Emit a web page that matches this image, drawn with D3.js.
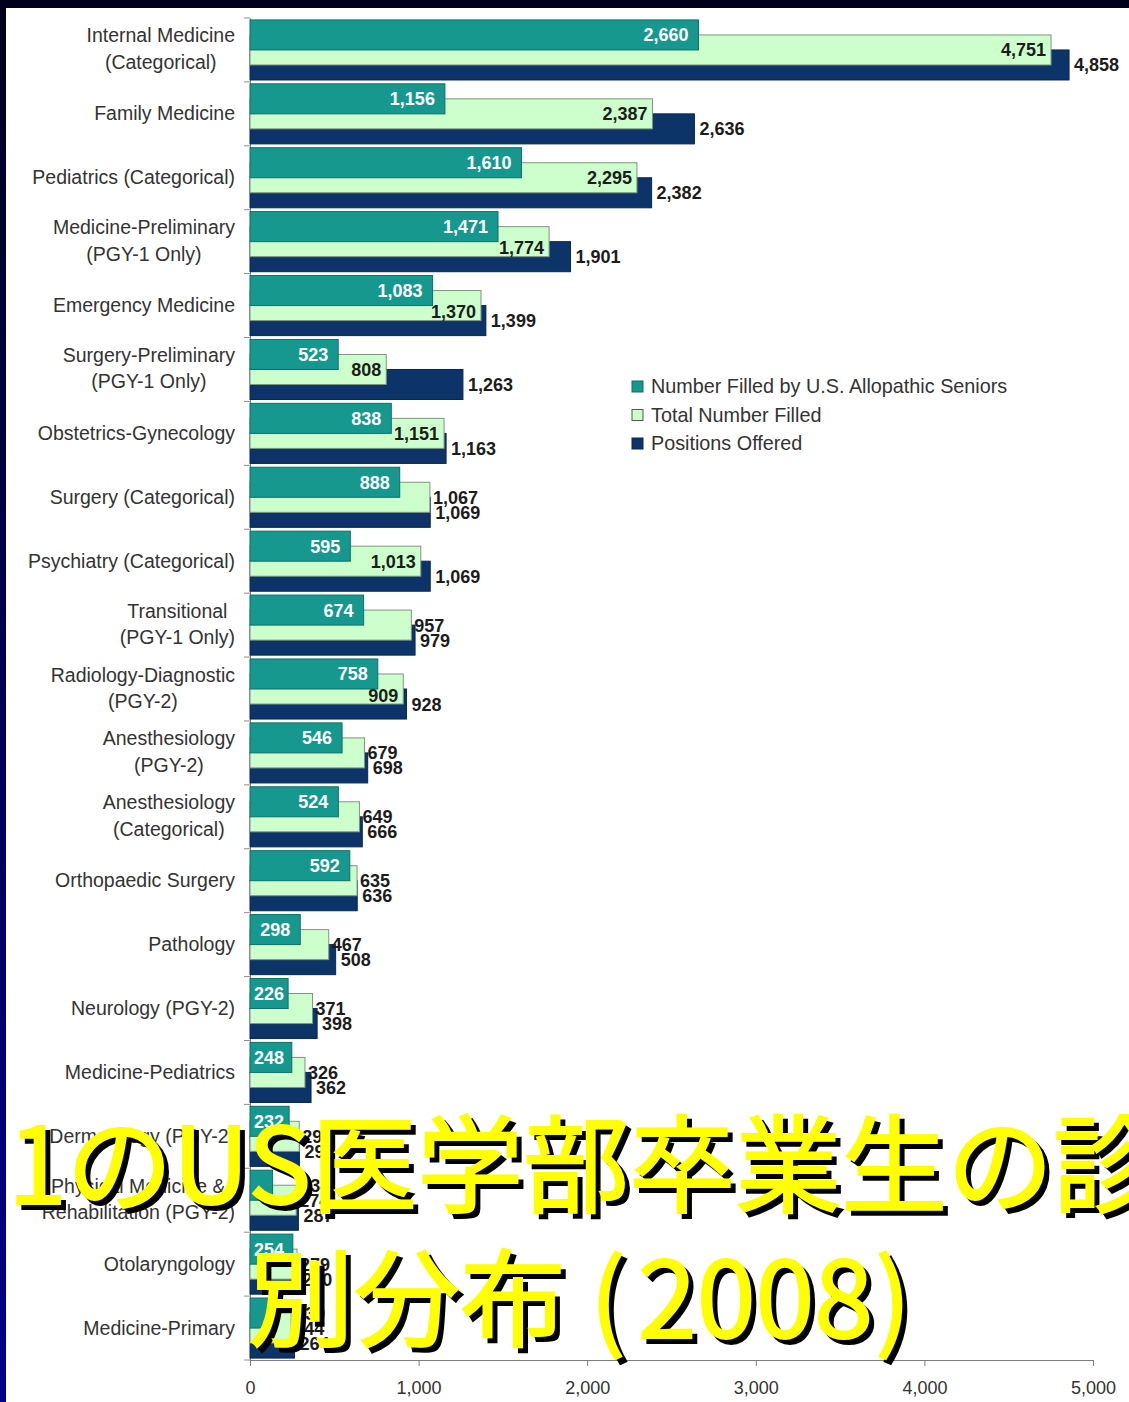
<!DOCTYPE html>
<html>
<head>
<meta charset="utf-8">
<script src="https://cdn.jsdelivr.net/npm/d3@7"></script>
<style>
  html, body { margin: 0; padding: 0; background: #00001c; }
  svg { display: block; }
</style>
</head>
<body>
<svg id="chart" width="1129" height="1402"></svg>
<script>
// Specialties, top to bottom ("\n" marks a line break in the axis label)
const categories = [
  "Internal Medicine\n(Categorical)",
  "Family Medicine",
  "Pediatrics (Categorical)",
  "Medicine-Preliminary\n(PGY-1 Only)",
  "Emergency Medicine",
  "Surgery-Preliminary\n(PGY-1 Only)",
  "Obstetrics-Gynecology",
  "Surgery (Categorical)",
  "Psychiatry (Categorical)",
  "Transitional\n(PGY-1 Only)",
  "Radiology-Diagnostic\n(PGY-2)",
  "Anesthesiology\n(PGY-2)",
  "Anesthesiology\n(Categorical)",
  "Orthopaedic Surgery",
  "Pathology",
  "Neurology (PGY-2)",
  "Medicine-Pediatrics",
  "Dermatology (PGY-2)",
  "Physical Medicine &\nRehabilitation (PGY-2)",
  "Otolaryngology",
  "Medicine-Primary"
];

const filledBySeniors = [2660, 1156, 1610, 1471, 1083, 523, 838, 888, 595, 674, 758, 546, 524, 592, 298, 226, 248, 232, 134, 254, 130];
const totalFilled     = [4751, 2387, 2295, 1774, 1370, 808, 1151, 1067, 1013, 957, 909, 679, 649, 635, 467, 371, 326, 292, 274, 279, 244];
const positionsOffered = [4858, 2636, 2382, 1901, 1399, 1263, 1163, 1069, 1069, 979, 928, 698, 666, 636, 508, 398, 362, 293, 287, 280, 264];

const seriesNames = [
  "Number Filled by U.S. Allopathic Seniors",
  "Total Number Filled",
  "Positions Offered"
];

const xTicks = [0, 1000, 2000, 3000, 4000, 5000];

// "Total Number Filled" labels that sit outside the end of their bar
const filledLabelsOutside = [
  "Surgery (Categorical)", "Transitional\n(PGY-1 Only)", "Anesthesiology\n(PGY-2)",
  "Anesthesiology\n(Categorical)", "Orthopaedic Surgery", "Pathology", "Neurology (PGY-2)",
  "Medicine-Pediatrics", "Dermatology (PGY-2)", "Physical Medicine &\nRehabilitation (PGY-2)",
  "Otolaryngology", "Medicine-Primary"
];

// title, split into runs so the brackets can be spaced
const titleLine1 = ["1のUS医学部卒業生の診"];
const titleLine2 = ["別分布", "(", "2008", ")"];

// ---- drawing ----
const W = 1129, H = 1402;
const svg = d3.select("#chart");
const defs = svg.append("defs");

const grad = defs.append("linearGradient").attr("id", "sideGrad")
  .attr("x1", 0).attr("y1", 0).attr("x2", 0).attr("y2", 1);
grad.append("stop").attr("offset", "0%").attr("stop-color", "#00001e");
grad.append("stop").attr("offset", "100%").attr("stop-color", "#00008c");

// slide frame and white chart canvas
svg.append("rect").attr("width", W).attr("height", H).attr("fill", "#00001c");
svg.append("rect").attr("x", 0).attr("y", 8).attr("width", 6).attr("height", H - 8).attr("fill", "url(#sideGrad)");
svg.append("rect").attr("x", 6).attr("y", 8).attr("width", W - 6).attr("height", H - 8).attr("fill", "#ffffff");

const colors = { seniors: "#17988f", total: "#ccffcc", offered: "#0c3468" };
const strokes = { seniors: "#0e6f69", total: "#7f947f", offered: "#082650" };

const x = d3.scaleLinear().domain([0, 5000]).range([250, 1093]);
const y = d3.scaleBand().domain(categories).range([18, 1360]).paddingInner(0).paddingOuter(0);
const step = y.bandwidth();
const barH = step * 0.47;
const offs = { seniors: step * 0.03, total: step * 0.265, offered: step * 0.5 };

const rows = categories.map((c, i) => ({
  cat: c, seniors: filledBySeniors[i], total: totalFilled[i], offered: positionsOffered[i]
}));

const labelFont = "'Liberation Sans', Arial, sans-serif";

// axes
const xAxis = d3.axisBottom(x).tickValues(xTicks).tickFormat(d3.format(",")).tickSize(6).tickPadding(15);
const gx = svg.append("g").attr("transform", "translate(0,1360)").call(xAxis);
gx.select(".domain").attr("stroke", "#7d7d7d");
gx.selectAll(".tick line").attr("stroke", "#7d7d7d");
gx.selectAll(".tick text").attr("font-family", labelFont).attr("font-size", 18).attr("fill", "#333");

const yAxis = d3.axisLeft(y).tickFormat("").tickSize(0);
const gy = svg.append("g").attr("transform", "translate(250,0)").call(yAxis);
gy.select(".domain").attr("stroke", "#7d7d7d");
gy.selectAll(".tick").remove();
// tick marks on band boundaries
const boundaries = categories.map(c => y(c)).concat([y.range()[1]]);
svg.append("g").selectAll("line").data(boundaries).join("line")
  .attr("x1", 244).attr("x2", 250).attr("y1", d => d).attr("y2", d => d)
  .attr("stroke", "#9a8a8a").attr("stroke-width", 1);

// bars: offered at the back, then total filled, then seniors in front
const barG = svg.append("g");
["offered", "total", "seniors"].forEach(key => {
  barG.append("g").selectAll("rect").data(rows).join("rect")
    .attr("x", x(0))
    .attr("y", d => y(d.cat) + offs[key])
    .attr("width", d => x(d[key]) - x(0))
    .attr("height", barH)
    .attr("fill", colors[key])
    .attr("stroke", strokes[key])
    .attr("stroke-width", 1);
});

const fmt = d3.format(",");
const valG = svg.append("g").attr("font-family", labelFont).attr("font-size", 18).attr("font-weight", "bold");

// positions offered labels: right of the bar
valG.append("g").selectAll("text").data(rows).join("text")
  .attr("x", d => x(d.offered) + 5)
  .attr("y", d => y(d.cat) + offs.offered + barH / 2 + 6.5)
  .attr("fill", "#1c1c1c")
  .text(d => fmt(d.offered));

// total filled labels
valG.append("g").selectAll("text").data(rows).join("text")
  .attr("fill", "#1c1c1c")
  .text(d => fmt(d.total))
  .each(function(d) {
    const t = d3.select(this);
    const w = this.getComputedTextLength();
    const cy = y(d.cat) + offs.total + barH / 2 + 6.5;
    if (filledLabelsOutside.includes(d.cat)) {
      t.attr("x", x(d.total) + 3).attr("y", cy);
    } else {
      const left = x(d.total) - 5 - w;
      const shift = left < x(d.seniors) + 2 ? 6 : 0;
      t.attr("x", left).attr("y", cy + shift);
    }
  });

// seniors labels: inside the bar end, or past the filled bar when too short
valG.append("g").selectAll("text").data(rows).join("text")
  .text(d => fmt(d.seniors))
  .each(function(d) {
    const t = d3.select(this);
    const w = this.getComputedTextLength();
    const cy = y(d.cat) + offs.seniors + barH / 2 + 6.5;
    const barW = x(d.seniors) - x(0);
    if (barW >= w + 6) {
      const right = Math.max(x(d.seniors) - 10, x(0) + 4 + w);
      t.attr("x", right - w).attr("y", cy).attr("fill", "#ffffff");
    } else {
      t.attr("x", x(d.total) + 4).attr("y", cy).attr("fill", "#1c1c1c");
    }
  });

// category labels: multi-line blocks, centred lines, right-aligned block
const catG = svg.append("g").attr("font-family", labelFont).attr("font-size", 19.5).attr("fill", "#333");
rows.forEach(d => {
  const lines = d.cat.split("\n");
  const cy = y(d.cat) + step / 2;
  const texts = lines.map((ln, j) => {
    const dy = lines.length === 1 ? 6.5 : (j === 0 ? -7.5 : 19);
    return catG.append("text").attr("y", cy + dy).attr("text-anchor", "middle").text(ln);
  });
  const maxW = d3.max(texts, t => t.node().getComputedTextLength());
  texts.forEach(t => t.attr("x", 235 - maxW / 2));
});

// legend
const legend = svg.append("g").attr("transform", "translate(632,378)");
const legendKeys = ["seniors", "total", "offered"];
seriesNames.forEach((name, i) => {
  const g = legend.append("g").attr("transform", `translate(0,${i * 28.5})`);
  g.append("rect").attr("x", 0).attr("y", 3).attr("width", 11).attr("height", 11)
    .attr("fill", colors[legendKeys[i]]).attr("stroke", i === 1 ? "#555" : strokes[legendKeys[i]]);
  g.append("text").attr("x", 19).attr("y", 15)
    .attr("font-family", labelFont).attr("font-size", 19.8).attr("fill", "#333").text(name);
});

// overlaid title: yellow with a black drop shadow
const titleG = svg.append("g").attr("font-family", "'Noto Sans CJK JP', sans-serif").attr("font-size", 106);
const line2Gaps = [0, 24, 12, 2];
const layers = [
  { dx: 5, dy: 5, fill: "#000000" },
  { dx: 0, dy: 0, fill: "#ffff00" }
];
layers.forEach(layer => {
  const t1 = titleG.append("text")
    .attr("x", 8 + layer.dx).attr("y", 1204 + layer.dy)
    .attr("fill", layer.fill).attr("stroke", layer.fill).attr("stroke-width", 2);
  t1.selectAll("tspan").data(titleLine1).join("tspan").text(s => s);
  const t2 = titleG.append("text")
    .attr("x", 248 + layer.dx).attr("y", 1338 + layer.dy)
    .attr("fill", layer.fill).attr("stroke", layer.fill).attr("stroke-width", 2);
  t2.selectAll("tspan").data(titleLine2).join("tspan")
    .attr("dx", (s, i) => line2Gaps[i]).text(s => s);
});
</script>
</body>
</html>
